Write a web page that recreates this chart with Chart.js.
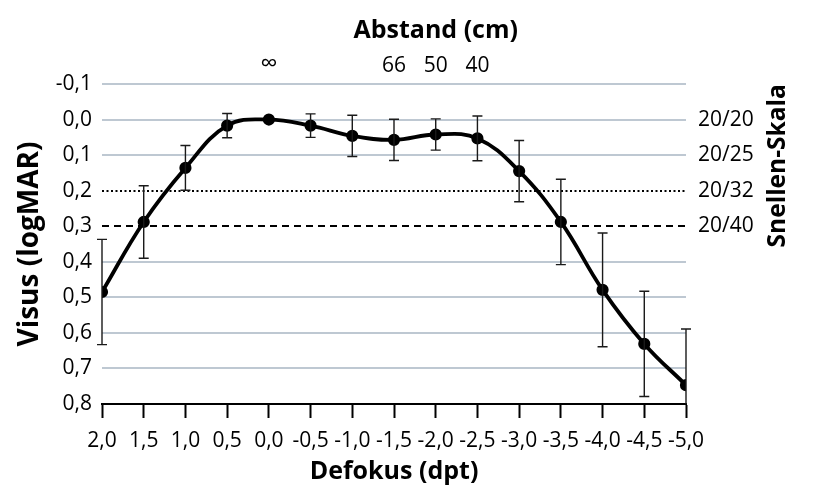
<!DOCTYPE html>
<html>
<head>
<meta charset="utf-8">
<script src="https://cdn.jsdelivr.net/npm/chart.js@4.4.0/dist/chart.umd.min.js"></script>
<style>
  body { margin: 0; background: #fff; }
  #wrap { width: 819px; height: 486px; }
</style>
</head>
<body>
<div id="wrap"><canvas id="defocusCanvas"></canvas></div>
<script>
// Defokuskurve (Visus in logMAR)
const defocus = [2.0, 1.5, 1.0, 0.5, 0.0, -0.5, -1.0, -1.5, -2.0, -2.5, -3.0, -3.5, -4.0, -4.5, -5.0];
const visus = [0.485, 0.288, 0.136, 0.017, 0.0, 0.017, 0.046, 0.057, 0.042, 0.053, 0.145, 0.288, 0.479, 0.631, 0.747];
const visusSd = [0.148, 0.102, 0.063, 0.034, 0.0, 0.033, 0.058, 0.058, 0.044, 0.063, 0.086, 0.12, 0.16, 0.148, 0.158];

const snellenValues = [0.0, 0.1, 0.2, 0.3];
const snellenLabels = ['20/20', '20/25', '20/32', '20/40'];
const distanceDefocus = [0.0, -1.5, -2.0, -2.5];
const distanceLabels = ['\u221E', '66', '50', '40'];

const FONT = "'Open Sans', 'Noto Sans', sans-serif";
const TICK_SIZE = 21;
const comma = v => v.toFixed(1).replace('.', ',').replace('-0,0', '0,0');
const tenth = v => Math.round(v * 10);

const errorBars = {
  id: 'errorBars',
  afterDatasetsDraw(chart) {
    const { ctx, chartArea } = chart;
    const xs = chart.scales.x, ys = chart.scales.y;
    ctx.save();
    ctx.strokeStyle = '#1a1a1a';
    ctx.lineWidth = 1.4;
    defocus.forEach((d, i) => {
      const sd = visusSd[i];
      if (!sd) return;
      const x = xs.getPixelForValue(d);
      const yTop = ys.getPixelForValue(visus[i] - sd);
      const yBot = ys.getPixelForValue(visus[i] + sd);
      const t = Math.max(yTop, chartArea.top), b = Math.min(yBot, chartArea.bottom);
      ctx.beginPath();
      ctx.moveTo(x, t); ctx.lineTo(x, b);
      if (yTop >= chartArea.top) { ctx.moveTo(x - 5, yTop); ctx.lineTo(x + 5, yTop); }
      if (yBot <= chartArea.bottom) { ctx.moveTo(x - 5, yBot); ctx.lineTo(x + 5, yBot); }
      ctx.stroke();
    });
    ctx.restore();
  }
};

const sideTitles = {
  id: 'sideTitles',
  afterDraw(chart) {
    const { ctx } = chart;
    ctx.save();
    ctx.fillStyle = '#000';
    ctx.textAlign = 'center';
    ctx.textBaseline = 'middle';
    ctx.font = 'bold 25px ' + FONT;
    ctx.fillText('Abstand (cm)', chart.scales.x.getPixelForValue(-2.0), 31);
    ctx.translate(778, chart.scales.y.getPixelForValue(0.13));
    ctx.rotate(-Math.PI / 2);
    ctx.font = 'bold 24.5px ' + FONT;
    ctx.fillText('Snellen-Skala', 0, 0);
    ctx.restore();
  }
};

const rangeX = { min: -5, max: 2, reverse: true };
const rangeY = { min: -0.1, max: 0.8, reverse: true };
const tickFont = { family: FONT, size: TICK_SIZE };

new Chart(document.getElementById('defocusCanvas'), {
  type: 'line',
  data: {
    datasets: [{
      data: defocus.map((d, i) => ({ x: d, y: visus[i] })),
      borderColor: '#000',
      backgroundColor: '#000',
      borderWidth: 3.8,
      pointRadius: 4.2,
      pointHoverRadius: 4.2,
      tension: 0.4,
      fill: false
    }]
  },
  options: {
    responsive: true,
    maintainAspectRatio: false,
    animation: false,
    layout: { padding: 0 },
    plugins: { legend: { display: false }, tooltip: { enabled: false } },
    scales: {
      x: {
        type: 'linear', position: 'bottom', ...rangeX,
        afterFit: s => { s.height = 82; },
        ticks: {
          stepSize: 0.5, autoSkip: false, maxRotation: 0, padding: 10,
          color: '#000', font: tickFont,
          callback: v => comma(v)
        },
        grid: { drawOnChartArea: false, drawTicks: true, tickLength: 14, tickColor: '#000', tickWidth: 2 },
        border: { display: true, color: '#000', width: 2 },
        title: { display: true, text: 'Defokus (dpt)', color: '#000', padding: { top: 0, bottom: -1 },
          font: { family: FONT, size: 25, weight: 'bold' } }
      },
      x2: {
        type: 'linear', position: 'top', ...rangeX,
        afterFit: s => { s.height = 84; },
        afterBuildTicks: s => { s.ticks = distanceDefocus.map(v => ({ value: v })); },
        ticks: {
          autoSkip: false, maxRotation: 0, padding: 5,
          color: '#000',
          font: c => ({ family: FONT, size: c.index === 0 ? 24 : TICK_SIZE }),
          callback: (v, i) => distanceLabels[i]
        },
        grid: { display: false, drawTicks: false },
        border: { display: false }
      },
      y: {
        type: 'linear', position: 'left', ...rangeY,
        afterFit: s => { s.width = 102; },
        ticks: {
          stepSize: 0.1, padding: 10,
          color: '#000', font: tickFont,
          callback: v => comma(v)
        },
        grid: {
          drawTicks: false,
          color: c => (tenth(c.tick.value) === 2 || tenth(c.tick.value) === 3) ? '#000' : '#bec8d2',
          lineWidth: 2
        },
        border: {
          display: false,
          dash: c => tenth(c.tick.value) === 2 ? [2, 2.5] : (tenth(c.tick.value) === 3 ? [7, 5] : [])
        },
        title: { display: true, text: 'Visus (logMAR)', color: '#000', padding: { top: 13, bottom: 0 },
          font: { family: FONT, size: 28, weight: 'bold' } }
      },
      y2: {
        type: 'linear', position: 'right', ...rangeY,
        afterFit: s => { s.width = 133; },
        afterBuildTicks: s => { s.ticks = snellenValues.map(v => ({ value: v })); },
        ticks: {
          padding: 12,
          color: '#000', font: tickFont,
          callback: (v, i) => snellenLabels[i]
        },
        grid: { display: false, drawTicks: false },
        border: { display: false }
      }
    }
  },
  plugins: [errorBars, sideTitles]
});
</script>
</body>
</html>
